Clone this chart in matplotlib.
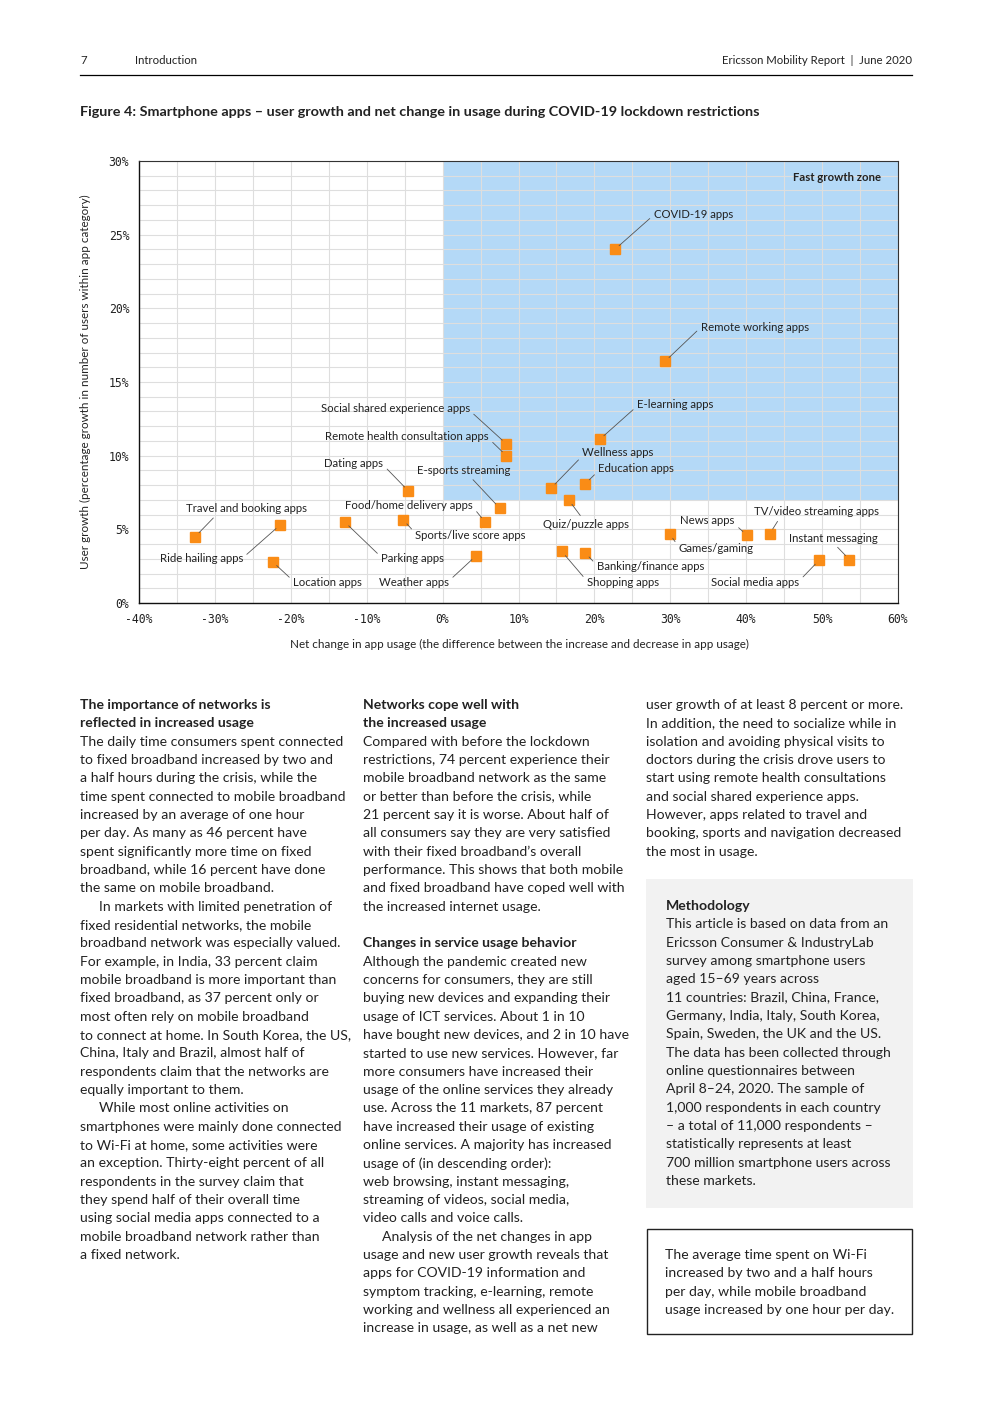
import matplotlib.pyplot as plt
from matplotlib.patches import Rectangle
from matplotlib.ticker import FuncFormatter, MultipleLocator

plt.rcParams['font.family'] = ['Lato', 'DejaVu Sans']

# data (net change %, user growth %)
apps = ['COVID-19 apps', 'Remote working apps', 'E-learning apps',
        'Social shared experience apps', 'Remote health consultation apps',
        'Dating apps', 'E-sports streaming', 'Wellness apps', 'Education apps',
        'Quiz/puzzle apps', 'Food/home delivery apps', 'Sports/live score apps',
        'Travel and booking apps', 'Ride hailing apps', 'Location apps',
        'Parking apps', 'Weather apps', 'News apps', 'TV/video streaming apps',
        'Games/gaming', 'Instant messaging', 'Shopping apps',
        'Banking/finance apps', 'Social media apps']
net_change = [22.7, 29.3, 20.7, 8.4, 8.4, -4.5, 7.5, 14.3, 18.8, 16.6, 5.6, -5.2,
              -32.6, -21.4, -22.4, -12.9, 4.4, 40.1, 43.1, 29.9, 53.6, 15.7, 18.8, 49.6]
user_growth = [24.0, 16.4, 11.1, 10.8, 10.0, 7.6, 6.45, 7.8, 8.1, 7.0, 5.5, 5.65,
               4.5, 5.3, 2.8, 5.5, 3.2, 4.6, 4.7, 4.7, 2.95, 3.5, 3.4, 2.9]

# label placement: text x, text y, alignment, leader start on text box
label_pos = {
    'COVID-19 apps': (27.8, 26.4, 'left', (0, 0.4)),
    'Remote working apps': (34.0, 18.7, 'left', (0, 0.5)),
    'E-learning apps': (25.6, 13.5, 'left', (0, 0.3)),
    'Social shared experience apps': (3.6, 13.2, 'right', (1, 0.3)),
    'Remote health consultation apps': (6.1, 11.3, 'right', (1, 0.3)),
    'Dating apps': (-7.8, 9.5, 'right', (1, 0.3)),
    'E-sports streaming': (2.8, 9.0, 'center', (0.56, 0)),
    'Wellness apps': (18.4, 10.2, 'left', (0, 0.2)),
    'Education apps': (20.5, 9.1, 'left', (0, 0.3)),
    'Quiz/puzzle apps': (13.2, 5.3, 'left', (0.47, 1)),
    'Food/home delivery apps': (4.0, 6.65, 'right', (1, 0.3)),
    'Sports/live score apps': (-3.6, 4.6, 'left', (0, 0.7)),
    'Travel and booking apps': (-25.9, 6.4, 'center', (0.26, 0)),
    'Ride hailing apps': (-26.3, 3.0, 'right', (1, 0.6)),
    'Location apps': (-19.7, 1.36, 'left', (0, 0.7)),
    'Parking apps': (-8.1, 3.05, 'left', (0, 0.6)),
    'Weather apps': (0.85, 1.36, 'right', (1, 0.7)),
    'News apps': (38.5, 5.57, 'right', (1, 0.2)),
    'TV/video streaming apps': (41.0, 6.18, 'left', (0.21, 0)),
    'Games/gaming': (31.1, 3.67, 'left', (0, 0.7)),
    'Instant messaging': (45.6, 4.41, 'left', (0.51, 0)),
    'Shopping apps': (19.0, 1.36, 'left', (0, 0.7)),
    'Banking/finance apps': (20.3, 2.5, 'left', (0, 0.6)),
    'Social media apps': (47.0, 1.36, 'right', (1, 0.7)),
}

W, H = 992, 1403
fig = plt.figure(figsize=(W / 100, H / 100), dpi=100)


def fx(x):
    return x / W


def fy(y):
    return 1 - y / H


txt = '#222222'

# page header
fig.text(fx(80), fy(60), '7', fontsize=8.2, color=txt, va='center')
fig.text(fx(135), fy(60), 'Introduction', fontsize=8.2, color=txt, va='center')
fig.text(fx(912), fy(60), 'Ericsson Mobility Report  |  June 2020', fontsize=8.2,
         color=txt, va='center', ha='right')
fig.add_artist(plt.Line2D([fx(80), fx(912)], [fy(75), fy(75)], color='black', lw=0.9))
fig.text(fx(80), fy(112), 'Figure 4: Smartphone apps \u2013 user growth and net change in usage '
         'during COVID-19 lockdown restrictions', fontsize=10.4, fontweight='bold',
         color=txt, va='center')

# chart
ax = fig.add_axes([fx(139), fy(603), (898 - 139) / W, (603 - 161) / H])
ax.set_xlim(-40, 60)
ax.set_ylim(0, 30)
ax.add_patch(Rectangle((0, 7), 60, 23, color='#b4d9f7', zorder=0, lw=0))
ax.xaxis.set_major_locator(MultipleLocator(10))
ax.xaxis.set_minor_locator(MultipleLocator(5))
ax.yaxis.set_major_locator(MultipleLocator(5))
ax.yaxis.set_minor_locator(MultipleLocator(1))
ax.grid(which='both', color='#dedede', lw=0.8, zorder=1)
ax.set_axisbelow(True)
pct = FuncFormatter(lambda v, p: '%d%%' % v)
ax.xaxis.set_major_formatter(pct)
ax.yaxis.set_major_formatter(pct)
ax.tick_params(which='both', length=0, labelsize=8.3, colors=txt, pad=7,
               labelfontfamily='DejaVu Sans Mono')
for s in ['left', 'bottom']:
    ax.spines[s].set_color('#111111')
    ax.spines[s].set_linewidth(1.0)
for s in ['top', 'right']:
    ax.spines[s].set_color('#333333')
    ax.spines[s].set_linewidth(0.8)

ax.plot(net_change, user_growth, 's', color='#fa8c16', markersize=7.2,
        zorder=4, linestyle='none')
for name, x, y in zip(apps, net_change, user_growth):
    tx, ty, ha, rp = label_pos[name]
    ax.annotate(name, xy=(x, y), xytext=(tx, ty), ha=ha, va='center',
                fontsize=8.2, color=txt, zorder=5,
                arrowprops=dict(arrowstyle='-', color='#555555', lw=0.6,
                                shrinkA=1, shrinkB=4, relpos=rp))
ax.text(57.8, 28.85, 'Fast growth zone', ha='right', va='center', fontsize=8.2,
        fontweight='bold', color=txt)

fig.text(fx(85), fy(382), 'User growth (percentage growth in number of users within app category)',
         rotation=90, fontsize=8.4, color=txt, ha='center', va='center')
fig.text(fx(519), fy(644), 'Net change in app usage (the difference between the increase and '
         'decrease in app usage)', fontsize=8.4, color=txt, ha='center', va='center')

# body text
pitch = 18.33
fs = 10.05


def column(x, y0, lines):
    y = y0
    for line in lines:
        if line is None:
            y += pitch
            continue
        bold = line.startswith('**')
        indent = line.startswith('>')
        t = line.lstrip('*>')
        fig.text(fx(x + (19 if indent else 0)), fy(y), t, fontsize=fs, color=txt,
                 va='center', fontweight='bold' if bold else 'normal')
        y += pitch


col1 = [
    '**The importance of networks is',
    '**reflected in increased usage',
    'The daily time consumers spent connected',
    'to fixed broadband increased by two and',
    'a half hours during the crisis, while the',
    'time spent connected to mobile broadband',
    'increased by an average of one hour',
    'per day. As many as 46 percent have',
    'spent significantly more time on fixed',
    'broadband, while 16 percent have done',
    'the same on mobile broadband.',
    '>In markets with limited penetration of',
    'fixed residential networks, the mobile',
    'broadband network was especially valued.',
    'For example, in India, 33 percent claim',
    'mobile broadband is more important than',
    'fixed broadband, as 37 percent only or',
    'most often rely on mobile broadband',
    'to connect at home. In South Korea, the US,',
    'China, Italy and Brazil, almost half of',
    'respondents claim that the networks are',
    'equally important to them.',
    '>While most online activities on',
    'smartphones were mainly done connected',
    'to Wi-Fi at home, some activities were',
    'an exception. Thirty-eight percent of all',
    'respondents in the survey claim that',
    'they spend half of their overall time',
    'using social media apps connected to a',
    'mobile broadband network rather than',
    'a fixed network.',
]
col2 = [
    '**Networks cope well with',
    '**the increased usage',
    'Compared with before the lockdown',
    'restrictions, 74 percent experience their',
    'mobile broadband network as the same',
    'or better than before the crisis, while',
    '21 percent say it is worse. About half of',
    'all consumers say they are very satisfied',
    'with their fixed broadband\u2019s overall',
    'performance. This shows that both mobile',
    'and fixed broadband have coped well with',
    'the increased internet usage.',
    None,
    '**Changes in service usage behavior',
    'Although the pandemic created new',
    'concerns for consumers, they are still',
    'buying new devices and expanding their',
    'usage of ICT services. About 1 in 10',
    'have bought new devices, and 2 in 10 have',
    'started to use new services. However, far',
    'more consumers have increased their',
    'usage of the online services they already',
    'use. Across the 11 markets, 87 percent',
    'have increased their usage of existing',
    'online services. A majority has increased',
    'usage of (in descending order):',
    'web browsing, instant messaging,',
    'streaming of videos, social media,',
    'video calls and voice calls.',
    '>Analysis of the net changes in app',
    'usage and new user growth reveals that',
    'apps for COVID-19 information and',
    'symptom tracking, e-learning, remote',
    'working and wellness all experienced an',
    'increase in usage, as well as a net new',
]
col3 = [
    'user growth of at least 8 percent or more.',
    'In addition, the need to socialize while in',
    'isolation and avoiding physical visits to',
    'doctors during the crisis drove users to',
    'start using remote health consultations',
    'and social shared experience apps.',
    'However, apps related to travel and',
    'booking, sports and navigation decreased',
    'the most in usage.',
]
method = [
    '**Methodology',
    'This article is based on data from an',
    'Ericsson Consumer & IndustryLab',
    'survey among smartphone users',
    'aged 15\u201369 years across',
    '11 countries: Brazil, China, France,',
    'Germany, India, Italy, South Korea,',
    'Spain, Sweden, the UK and the US.',
    'The data has been collected through',
    'online questionnaires between',
    'April 8\u201324, 2020. The sample of',
    '1,000 respondents in each country',
    '\u2013 a total of 11,000 respondents \u2013',
    'statistically represents at least',
    '700 million smartphone users across',
    'these markets.',
]
quote = [
    'The average time spent on Wi-Fi',
    'increased by two and a half hours',
    'per day, while mobile broadband',
    'usage increased by one hour per day.',
]

column(80, 705, col1)
column(363, 705, col2)
column(646, 705, col3)

fig.add_artist(Rectangle((fx(646), fy(1208)), (913 - 646) / W, (1208 - 879) / H,
                         transform=fig.transFigure, color='#f2f2f2', lw=0, zorder=0))
column(666, 906, method)

fig.add_artist(Rectangle((fx(647), fy(1334)), (912 - 647) / W, (1334 - 1229) / H,
                         transform=fig.transFigure, facecolor='none',
                         edgecolor='#222222', lw=1.0))
column(665, 1255, quote)

fig.savefig('out.png', dpi=100)
